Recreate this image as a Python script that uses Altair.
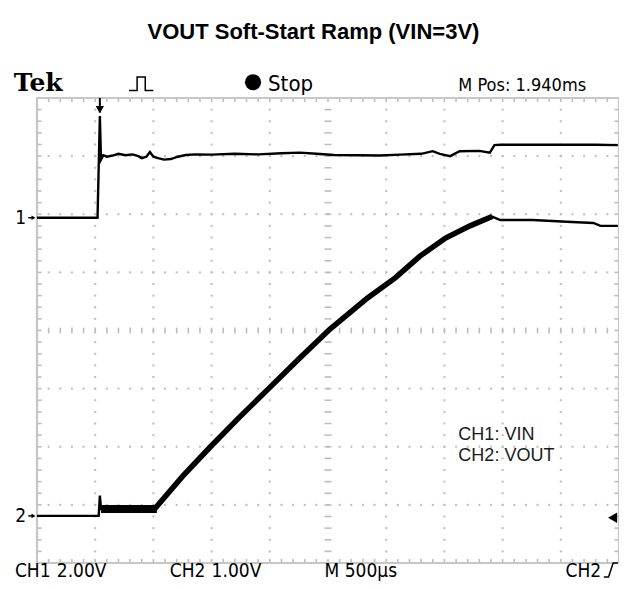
import altair as alt
import pandas as pd

# ---------------- scope settings ----------------
MS_PER_DIV = 0.5          # M 500us
CH1_VDIV, CH1_OFF = 2.0, 5.94   # CH1 2.00V, ground marker position (div from bottom)
CH2_VDIV, CH2_OFF = 1.0, 0.81   # CH2 1.00V

# ---------------- traces (time in ms, volts) ----------------
ch1_t = [0.00, 0.30, 0.52, 0.54, 0.55, 0.57, 0.60, 0.65, 0.70, 0.76, 0.82, 0.87, 0.90,
         0.94, 0.97, 1.00, 1.04, 1.09, 1.15, 1.21, 1.28, 1.36, 1.50, 1.70, 1.90, 2.10,
         2.26, 2.40, 2.55, 2.75, 2.95, 3.12, 3.30, 3.40, 3.46, 3.55, 3.63, 3.80, 3.89,
         3.93, 3.98, 4.40, 4.80, 4.99]
ch1_v = [0.00, 0.00, 0.00, 3.50, 2.00, 2.15, 2.10, 2.14, 2.20, 2.15, 2.18, 2.12, 2.05,
         2.10, 2.26, 2.10, 2.05, 2.00, 2.02, 2.10, 2.16, 2.18, 2.17, 2.20, 2.18, 2.22,
         2.24, 2.20, 2.16, 2.15, 2.14, 2.17, 2.20, 2.29, 2.20, 2.12, 2.29, 2.30, 2.24,
         2.50, 2.51, 2.51, 2.51, 2.50]

ch2_t = [0.00, 0.30, 0.53, 0.54, 0.55, 0.70, 0.85, 1.00, 1.03, 1.25, 1.49, 1.74, 1.99,
         2.26, 2.52, 2.84, 3.08, 3.29, 3.51, 3.72, 3.91, 3.98, 4.26, 4.55, 4.78, 4.84, 4.99]
ch2_v = [0.00, 0.00, 0.00, 0.35, 0.12, 0.13, 0.12, 0.12, 0.19, 0.68, 1.19, 1.70, 2.19,
         2.72, 3.22, 3.75, 4.10, 4.47, 4.78, 4.99, 5.15, 5.09, 5.09, 5.06, 5.04, 4.99, 4.99]

# noisy ramp section (drawn thicker)
ramp_t = [1.01, 1.25, 1.49, 1.74, 1.99, 2.26, 2.52, 2.84, 3.08, 3.29, 3.51, 3.72, 3.91]
ramp_v = [0.12, 0.68, 1.19, 1.70, 2.19, 2.72, 3.22, 3.75, 4.10, 4.47, 4.78, 4.99, 5.15]

# noisy hold level before the ramp (envelope)
hold_t = [0.55, 1.03]
hold_lo = [0.05, 0.05]
hold_hi = [0.19, 0.19]

legend_lines = ["CH1: VIN", "CH2: VOUT"]
title_text = "VOUT Soft-Start Ramp (VIN=3V)"

W, H = 582, 465
NX, NY = 10, 8
GRID = "#bdbdbd"
SCOPE_FONT = "DejaVu Sans Condensed, Liberation Sans Narrow, sans-serif"

xs = alt.Scale(domain=[0, NX * MS_PER_DIV], nice=False, zero=False)
ys = alt.Scale(domain=[0, NY], nice=False, zero=False)


def X(f="t"):
    return alt.X(f"{f}:Q", scale=xs, axis=None)


def Y(f="y"):
    return alt.Y(f"{f}:Q", scale=ys, axis=None)


# ---------------- trace tables ----------------
ch1 = pd.DataFrame({"t": ch1_t, "y": [CH1_OFF + v / CH1_VDIV for v in ch1_v]})
ch2 = pd.DataFrame({"t": ch2_t, "y": [CH2_OFF + v / CH2_VDIV for v in ch2_v]})
ramp = pd.DataFrame({"t": ramp_t, "y": [CH2_OFF + v / CH2_VDIV for v in ramp_v]})
hold = pd.DataFrame({"t": hold_t,
                     "y": [CH2_OFF + v / CH2_VDIV for v in hold_lo],
                     "y2": [CH2_OFF + v / CH2_VDIV for v in hold_hi]})

# ---------------- graticule ----------------
minor_x = [i * MS_PER_DIV / 5 for i in range(1, NX * 5)]
minor_y = [j / 5 for j in range(1, NY * 5)]
dots = []
for k in range(1, NX):
    if k == NX // 2:
        continue
    for yy in minor_y:
        dots.append({"t": k * MS_PER_DIV, "y": yy})
for k in range(1, NY):
    if k == NY // 2:
        continue
    for tt in minor_x:
        dots.append({"t": tt, "y": k})
dots = pd.DataFrame(dots)

cx = NX * MS_PER_DIV / 2
cy = NY / 2
tk = []
for yy in minor_y:
    tk.append({"t": cx - 0.03, "t2": cx + 0.03, "y": yy, "y2": yy})
for tt in minor_x:
    tk.append({"t": tt, "t2": tt, "y": cy - 0.05, "y2": cy + 0.05})
for tt in minor_x:
    tk.append({"t": tt, "t2": tt, "y": NY, "y2": NY - 0.07})
    tk.append({"t": tt, "t2": tt, "y": 0, "y2": 0.07})
for yy in minor_y:
    tk.append({"t": 0, "t2": 0.04, "y": yy, "y2": yy})
    tk.append({"t": NX * MS_PER_DIV, "t2": NX * MS_PER_DIV - 0.04, "y": yy, "y2": yy})
ticks = pd.DataFrame(tk)

border = pd.DataFrame({"t": [0], "t2": [NX * MS_PER_DIV], "y": [0], "y2": [NY]})

grid_dots = alt.Chart(dots).mark_square(size=4, color=GRID, opacity=1).encode(x=X(), y=Y())
grid_ticks = alt.Chart(ticks).mark_rule(color=GRID, strokeWidth=1.6).encode(
    x=X(), x2="t2:Q", y=Y(), y2="y2:Q")
frame = alt.Chart(border).mark_rect(fill="transparent", stroke="#c6c6c6", strokeWidth=2.2).encode(
    x=X(), x2="t2:Q", y=Y(), y2="y2:Q")

# ---------------- traces ----------------
l_ch1 = alt.Chart(ch1).mark_line(color="black", strokeWidth=2.4).encode(x=X(), y=Y())
l_ch2 = alt.Chart(ch2).mark_line(color="black", strokeWidth=2.4).encode(x=X(), y=Y())
l_ramp = alt.Chart(ramp).mark_line(color="black", strokeWidth=5.5).encode(x=X(), y=Y())
a_hold = alt.Chart(hold).mark_area(color="black").encode(x=X(), y=Y(), y2="y2:Q")

# ---------------- markers ----------------
trig_pos = 0.54
trig = alt.Chart(pd.DataFrame({"t": [trig_pos], "y": [7.80]})).mark_point(
    shape="triangle-down", filled=True, color="black", size=70, opacity=1).encode(x=X(), y=Y())
trig_stem = alt.Chart(pd.DataFrame({"t": [trig_pos], "y": [NY], "y2": [7.75]})).mark_rule(
    color="black", strokeWidth=2).encode(x=X(), y=Y(), y2="y2:Q")

gnd = pd.DataFrame({"lab": ["1", "2"], "y": [CH1_OFF, CH2_OFF], "t": [-0.14, -0.14],
                    "ta": [-0.03, -0.03], "tb": [-0.075, -0.075]})
gnd_txt = alt.Chart(gnd).mark_text(font=SCOPE_FONT, fontSize=19, color="black",
                                   baseline="middle", align="center").encode(
    x=X(), y=Y(), text="lab:N")
gnd_arrow = alt.Chart(gnd).mark_point(shape="triangle-right", filled=True, color="black",
                                      size=22, opacity=1).encode(x=X("ta"), y=Y())
gnd_stem = alt.Chart(gnd).mark_rule(color="black", strokeWidth=1.5).encode(
    x=X("tb"), x2="ta:Q", y=Y())

lvl = alt.Chart(pd.DataFrame({"t": [4.945], "y": [0.78]})).mark_point(
    shape="triangle-left", filled=True, color="black", size=110, opacity=1).encode(x=X(), y=Y())

# ---------------- header / footer text ----------------
stop_txt = alt.Chart(pd.DataFrame({"t": [1.985], "y": [8.12], "text": ["Stop"]})).mark_text(
    font=SCOPE_FONT, fontSize=22, color="black", align="left", baseline="alphabetic").encode(
    x=X(), y=Y(), text="text:N")
mpos_txt = alt.Chart(pd.DataFrame({"t": [3.62], "y": [8.12], "text": ["M Pos: 1.940ms"]})).mark_text(
    font=SCOPE_FONT, fontSize=18, color="black", align="left", baseline="alphabetic").encode(
    x=X(), y=Y(), text="text:N")
tek = alt.Chart(pd.DataFrame({"t": [-0.20], "y": [8.12], "text": ["Tek"]})).mark_text(
    font="DejaVu Serif", fontSize=25, fontWeight="bold", color="black",
    align="left", baseline="alphabetic").encode(x=X(), y=Y(), text="text:N")
stop_dot = alt.Chart(pd.DataFrame({"t": [1.856], "y": [8.27]})).mark_point(
    shape="circle", filled=True, color="black", size=260, opacity=1).encode(x=X(), y=Y())

pulse = pd.DataFrame({"t": [0.79, 0.86, 0.86, 0.93, 0.93, 1.00],
                      "y": [8.13, 8.13, 8.36, 8.36, 8.13, 8.13]})
pulse_l = alt.Chart(pulse).mark_line(color="black", strokeWidth=1.5).encode(x=X(), y=Y())

FOOT_Y = -0.24
ftr = pd.DataFrame({
    "t": [-0.19, 0.17, 1.14, 1.50, 2.47, 4.54],
    "y": [FOOT_Y] * 6,
    "text": ["CH1", "2.00V", "CH2", "1.00V", "M 500\u00b5s", "CH2"],
})
ftr_txt = alt.Chart(ftr).mark_text(font=SCOPE_FONT, fontSize=19, color="black",
                                   align="left", baseline="alphabetic").encode(
    x=X(), y=Y(), text="text:N")
edge = pd.DataFrame({"t": [4.87, 4.91, 4.95, 4.99],
                     "y": [FOOT_Y, FOOT_Y, FOOT_Y + 0.24, FOOT_Y + 0.24]})
edge_l = alt.Chart(edge).mark_line(color="black", strokeWidth=1.5).encode(x=X(), y=Y())

leg = pd.DataFrame({"t": [3.62, 3.62], "y": [2.12, 1.76], "text": legend_lines})
leg_txt = alt.Chart(leg).mark_text(font="Liberation Sans", fontSize=18, color="#1a1a1a",
                                   align="left", baseline="alphabetic").encode(
    x=X(), y=Y(), text="text:N")

ttl = alt.Chart(pd.DataFrame({"t": [2.375], "y": [9.14], "text": [title_text]})).mark_text(
    font="Liberation Sans", fontSize=22, fontWeight="bold", color="black",
    align="center", baseline="middle").encode(x=X(), y=Y(), text="text:N")

chart = alt.layer(
    grid_dots, grid_ticks, frame,
    a_hold, l_ch1, l_ch2, l_ramp,
    trig, trig_stem, gnd_txt, gnd_arrow, gnd_stem, lvl,
    stop_txt, mpos_txt, tek, stop_dot, pulse_l, ftr_txt, edge_l, leg_txt, ttl,
).properties(
    width=W, height=H,
    autosize=alt.AutoSizeParams(type="none"),
    padding={"left": 29, "top": 90, "right": 0, "bottom": 18},
    background="white",
).configure_view(stroke=None)

chart.save("out.html", embed_options={"renderer": "svg", "actions": False})
